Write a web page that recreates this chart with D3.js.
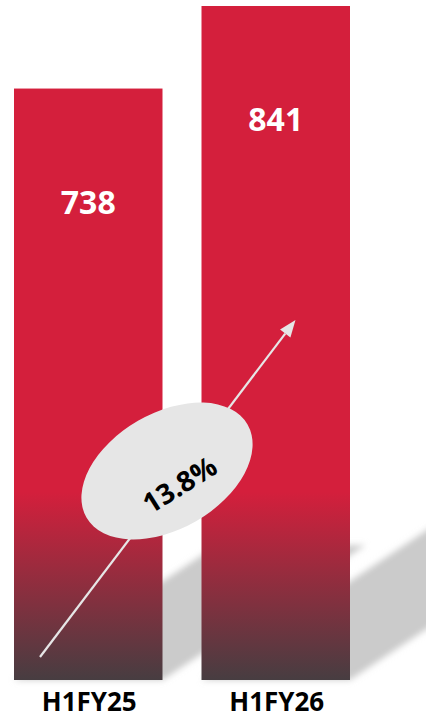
<!DOCTYPE html>
<html>
<head>
<meta charset="utf-8">
<script src="https://cdn.jsdelivr.net/npm/d3@7"></script>
<style>
  html, body { margin: 0; padding: 0; background: #ffffff; }
  svg { display: block; }
  text { font-family: "Open Sans", "DejaVu Sans", sans-serif; font-weight: 700; }
</style>
</head>
<body>
<svg id="chart" width="426" height="720"></svg>
<script>
// Half-year totals
const categories = ["H1FY25", "H1FY26"];
const values = [738, 841];
const growthLabel = "13.8%";

const W = 426, H = 720;
const svg = d3.select("#chart");

const x = d3.scaleBand().domain(categories).range([14, 350]).paddingInner(0.208).paddingOuter(0);
const y = d3.scaleLinear().domain([0, d3.max(values)]).range([680, 6]);
const base = y(0);

const defs = svg.append("defs");

// Bar fill: solid red fading into charcoal near the floor
const grad = defs.append("linearGradient")
  .attr("id", "barFill")
  .attr("gradientUnits", "userSpaceOnUse")
  .attr("x1", 0).attr("x2", 0)
  .attr("y1", 492).attr("y2", base);
grad.append("stop").attr("offset", 0).attr("stop-color", "#d41f3c");
grad.append("stop").attr("offset", 1).attr("stop-color", "#473d41");

const blur = defs.append("filter").attr("id", "soft")
  .attr("x", "-20%").attr("y", "-20%").attr("width", "140%").attr("height", "140%");
blur.append("feGaussianBlur").attr("stdDeviation", 3);

// Cast shadows falling up and to the right of each bar
const shadowRun = 0.343, shadowRise = 0.228;
svg.append("g").attr("filter", "url(#soft)")
  .selectAll("path")
  .data(categories.map((c, i) => ({ c, v: values[i] })))
  .join("path")
  .attr("fill", "#cbcbcb")
  .attr("d", d => {
    const x0 = x(d.c), x1 = x0 + x.bandwidth();
    const h = base - y(d.v);
    const dx = h * shadowRun, dy = h * shadowRise;
    return `M${x0},${base}L${x1},${base}L${x1 + dx},${base - dy}L${x0 + dx},${base - dy}Z`;
  });

// Bars
svg.append("g")
  .selectAll("rect")
  .data(categories.map((c, i) => ({ c, v: values[i] })))
  .join("rect")
  .attr("x", d => x(d.c))
  .attr("y", d => y(d.v))
  .attr("width", x.bandwidth())
  .attr("height", d => base - y(d.v))
  .attr("fill", "url(#barFill)");

// Value labels inside the bars
svg.append("g")
  .selectAll("text")
  .data(categories.map((c, i) => ({ c, v: values[i] })))
  .join("text")
  .attr("x", d => x(d.c) + x.bandwidth() / 2)
  .attr("y", d => y(d.v) + 125)
  .attr("text-anchor", "middle")
  .attr("fill", "#ffffff")
  .attr("font-size", 32)
  .text(d => d3.format(",")(d.v));

// Category labels under the bars
svg.append("g")
  .selectAll("text")
  .data(categories)
  .join("text")
  .attr("x", d => x(d) + x.bandwidth() / 2 + 1)
  .attr("y", 711)
  .attr("text-anchor", "middle")
  .attr("fill", "#000000")
  .attr("font-size", 26)
  .text(d => d);

// Growth arrow rising from the first bar into the second
const ax0 = x(categories[0]) + 26, ay0 = base - 23;
const ax1 = x(categories[1]) + 94, ay1 = 320;
const ang = Math.atan2(ay1 - ay0, ax1 - ax0);
const headLen = 17, headHalf = 6.5;
const bx = ax1 - headLen * Math.cos(ang), by = ay1 - headLen * Math.sin(ang);
svg.append("line")
  .attr("x1", ax0).attr("y1", ay0)
  .attr("x2", bx).attr("y2", by)
  .attr("stroke", "#e6e6e6").attr("stroke-width", 2.2);
svg.append("path")
  .attr("fill", "#e6e6e6")
  .attr("d", d3.line()([
    [ax1, ay1],
    [bx + headHalf * Math.sin(ang), by - headHalf * Math.cos(ang)],
    [bx - headHalf * Math.sin(ang), by + headHalf * Math.cos(ang)]
  ]) + "Z");

// Growth badge
const badge = svg.append("g").attr("transform", "translate(167,471)");
badge.append("ellipse")
  .attr("rx", 93).attr("ry", 58)
  .attr("transform", "rotate(-30)")
  .attr("fill", "#e6e6e6");
svg.append("text")
  .attr("transform", "translate(179,484) rotate(-32)")
  .attr("text-anchor", "middle")
  .attr("dominant-baseline", "central")
  .attr("fill", "#000000")
  .attr("font-size", 28)
  .text(growthLabel);
</script>
</body>
</html>
